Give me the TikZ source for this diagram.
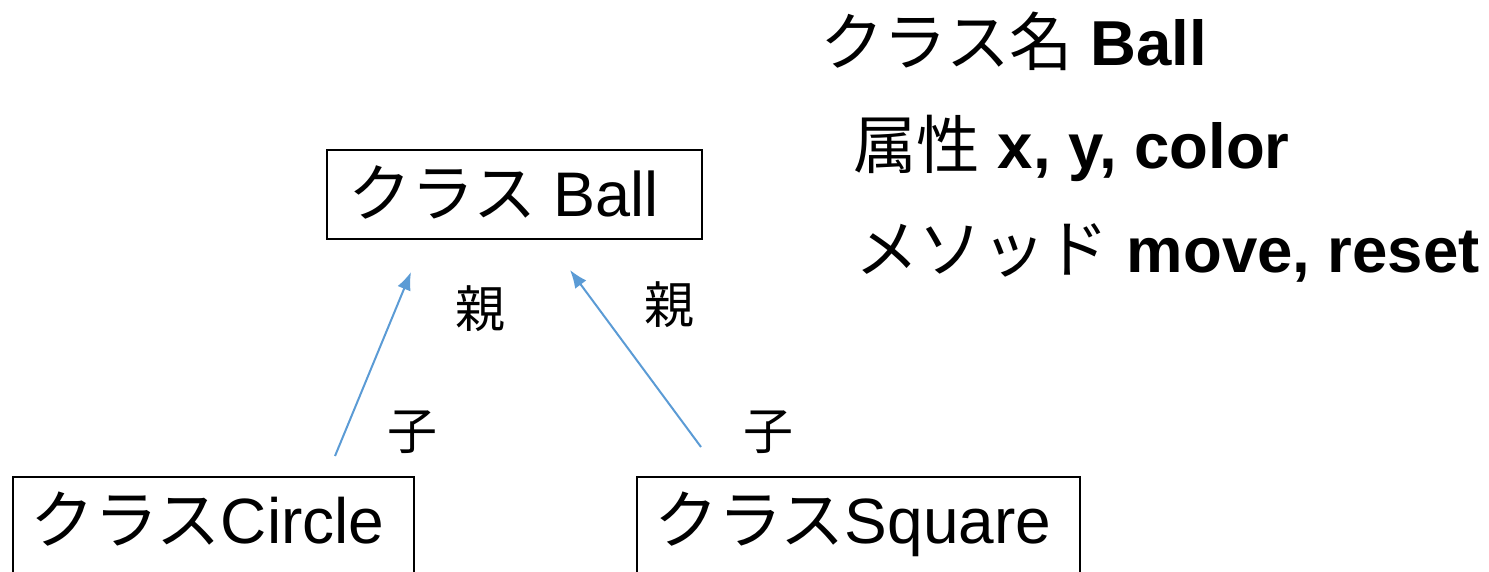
\documentclass[tikz,border=0pt]{standalone}
\usepackage{fontspec}
\setmainfont{Liberation Sans}
\newfontfamily\cjk{Noto Sans CJK JP}
\usetikzlibrary{arrows.meta}
\definecolor{arrowblue}{HTML}{5B9BD5}
\tikzset{
  classbox/.style={draw=black, line width=1.8pt, inner sep=0pt, anchor=north west},
  boxtext/.style={anchor=base west, inner sep=0pt, font=\fontsize{64}{64}\selectfont},
  infotext/.style={anchor=base west, inner sep=0pt, font=\fontsize{63.5}{63.5}\selectfont},
  rolelabel/.style={inner sep=0pt, font=\cjk\fontsize{50}{50}\selectfont},
  inherit/.style={draw=arrowblue, line width=2pt, -{Latex[length=18pt,width=14pt]}}
}
\begin{document}
\begin{tikzpicture}[x=1pt,y=-1pt]
\useasboundingbox (0,0) rectangle (1489,571);
\clip (0,0) rectangle (1489,571);
% boxes
\node[classbox, minimum width=375pt, minimum height=89pt] (ball) at (326,149) {};
\node[classbox, minimum width=401pt, minimum height=160pt] (circle) at (12,476) {};
\node[classbox, minimum width=443pt, minimum height=160pt] (square) at (636,476) {};
% box texts
\node[boxtext, font=\fontsize{63}{63}\selectfont] (balltxt) at (348,216) {{\cjk クラス} Ball};
\node[boxtext] (circletxt) at (30,543) {{\cjk クラス}Circle};
\node[boxtext] (squaretxt) at (654,543) {{\cjk クラス}Square};
% info text
\node[infotext] (info1) at (820,65) {{\cjk クラス名} \textbf{Ball}};
\node[infotext] (info2) at (853,168) {{\cjk 属性} \textbf{x, y, color}};
\node[infotext] (info3) at (855,272) {{\cjk メソッド} \textbf{move, reset}};
% arrows
\coordinate (c1s) at (335,456);
\coordinate (c1e) at (411,272);
\coordinate (c2s) at (701,447);
\coordinate (c2e) at (570,270);
\draw[inherit] (c1s) -- (c1e);
\draw[inherit] (c2s) -- (c2e);
% labels
\node[rolelabel] (p1) at (480,309) {親};
\node[rolelabel] (p2) at (669,305) {親};
\node[rolelabel] (k1) at (412,432) {子};
\node[rolelabel] (k2) at (768,432) {子};
\end{tikzpicture}
\end{document}
